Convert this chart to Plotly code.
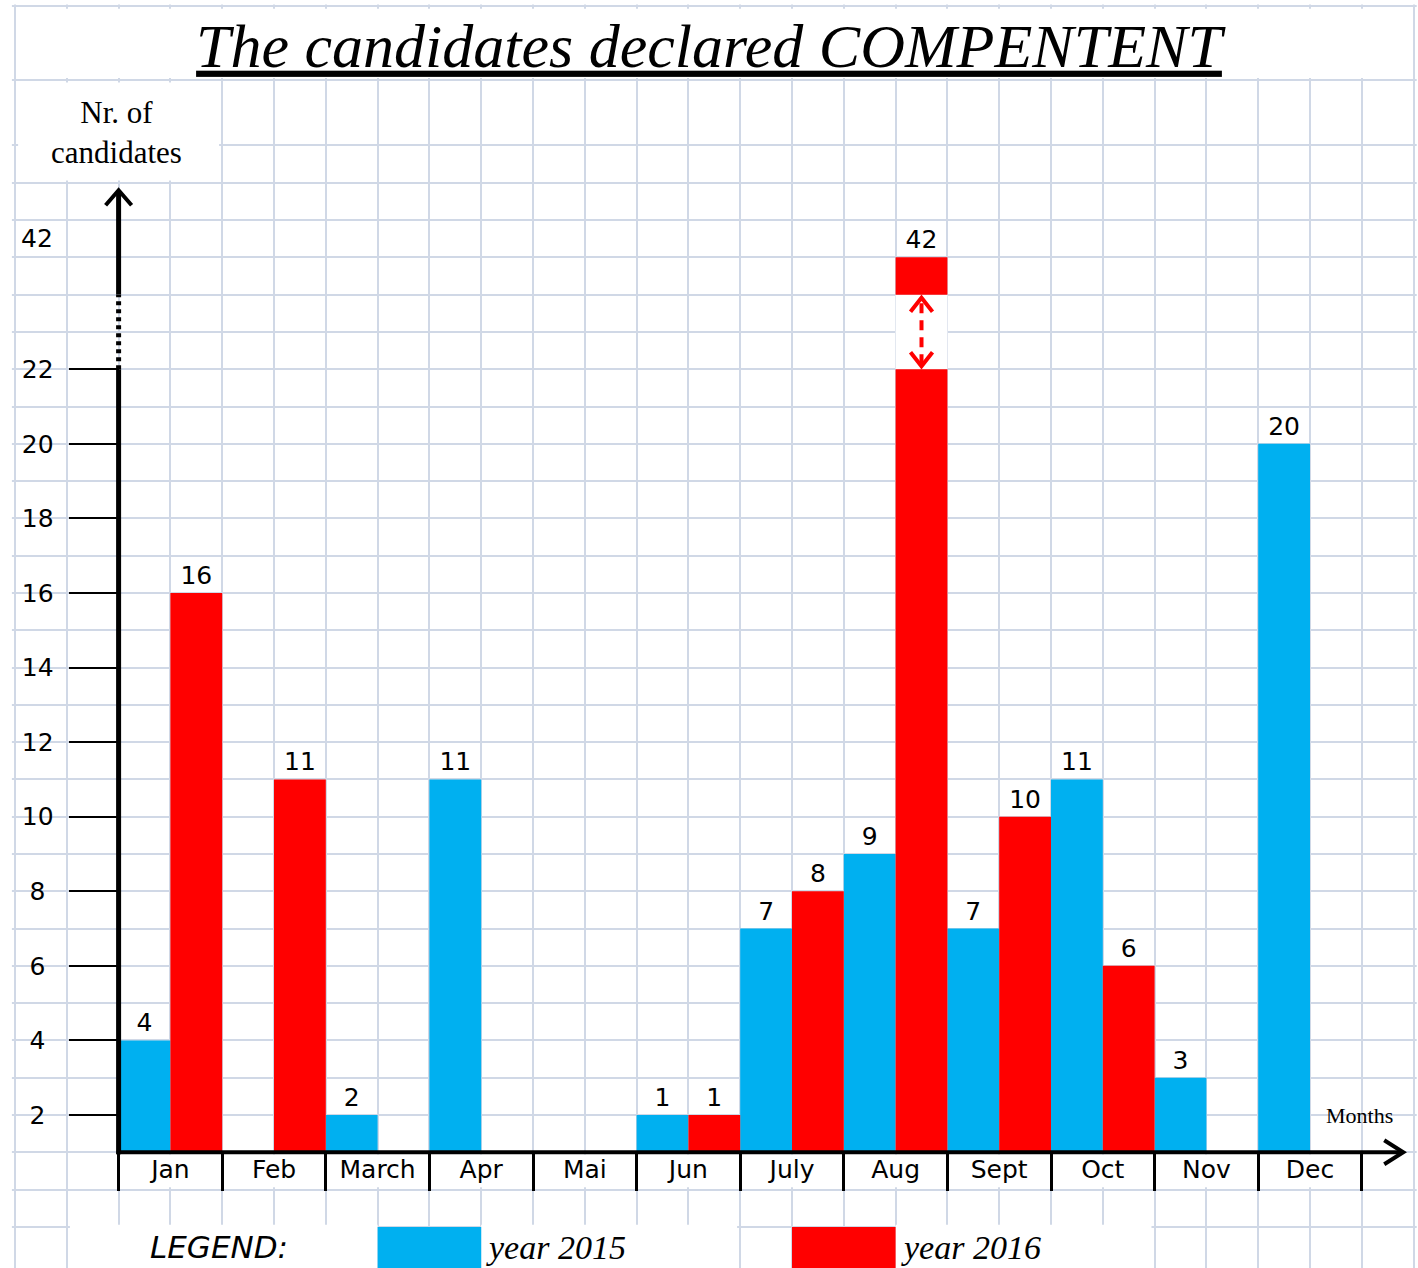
import plotly.graph_objects as go

# ---------------- data ----------------
MONTHS = ["Jan", "Feb", "March", "Apr", "Mai", "Jun", "July", "Aug", "Sept", "Oct", "Nov", "Dec"]
YEAR_2015 = [4, None, 2, 11, None, 1, 7, 9, 7, 11, 3, 20]
YEAR_2016 = [16, 11, None, None, None, 1, 8, 42, 10, 6, None, None]
SERIES_NAMES = ["year 2015", "year 2016"]
SERIES_COLORS = ["#00B0F0", "#FF0000"]
Y_TICK_VALUES = [2, 4, 6, 8, 10, 12, 14, 16, 18, 20, 22]
Y_BREAK_LABEL = 42
TITLE = "The candidates declared COMPENTENT"
Y_TITLE = "Nr. of<br>candidates"
X_TITLE = "Months"
LEGEND_TITLE = "LEGEND:"

# ---------------- axis conventions of the drawing ----------------
ORIGIN = 1          # value at which the x-axis crosses the y-axis
BREAK_LOW = 22      # axis is broken above this value
BREAK_RESUME = 24   # display level where the broken bar resumes
BREAK_TOP = 25      # display level of the top of a broken bar

W, H = 1418, 1268
PX_PER_X = 103.6        # pixels per month
X_LEFT_PX = 15.0        # pixel of x = -1.5 (left border of the sheet)
PX_PER_Y = 37.29        # pixels per unit
Y_ZERO_PX = 1189.6      # pixel of y = 0

x_range = [-1.5 - X_LEFT_PX / PX_PER_X, -1.5 + (W - X_LEFT_PX) / PX_PER_X]
y_range = [-(H - Y_ZERO_PX) / PX_PER_Y, Y_ZERO_PX / PX_PER_Y]

GRID = "#D0D8E6"
SANS = "DejaVu Sans"
SERIF = "Liberation Serif"
LBL_SIZE = 25


def shown_top(v):
    if v > BREAK_LOW:
        return BREAK_TOP
    return max(v, ORIGIN + 1)


fig = go.Figure()
offsets = [-0.25, 0.25]
for k, (vals, name, color) in enumerate(zip([YEAR_2015, YEAR_2016], SERIES_NAMES, SERIES_COLORS)):
    xs, hs, txt = [], [], []
    for i, v in enumerate(vals):
        if v is None:
            continue
        xs.append(i + offsets[k])
        hs.append(min(shown_top(v), BREAK_LOW) - ORIGIN)
        txt.append(str(v) if v <= BREAK_LOW else "")
    fig.add_bar(x=xs, y=hs, base=ORIGIN, width=0.5, name=name,
                marker=dict(color=color, line=dict(width=0)),
                text=txt, textposition="outside", constraintext="none",
                textfont=dict(family=SANS, size=LBL_SIZE, color="black"),
                cliponaxis=False, showlegend=False)
    ox = [i + offsets[k] for i, v in enumerate(vals) if v is not None and v > BREAK_LOW]
    ot = [str(v) for v in vals if v is not None and v > BREAK_LOW]
    if ox:
        fig.add_bar(x=ox, y=[BREAK_TOP - BREAK_RESUME] * len(ox), base=BREAK_RESUME, width=0.5,
                    name=name, marker=dict(color=color, line=dict(width=0)),
                    text=ot, textposition="outside", constraintext="none",
                    textfont=dict(family=SANS, size=LBL_SIZE, color="black"),
                    cliponaxis=False, showlegend=False)

# ---------------- axes (grid paper) ----------------
x_major = [-1.5, -1.0] + list(range(len(MONTHS))) + [12.0]
x_text = ["", ""] + MONTHS + [""]
x_minor = [i - 0.5 for i in range(len(MONTHS) + 1)]

y_major = list(range(-1, 29)) + [29.75, 31.73]
def ylab(v):
    if v in Y_TICK_VALUES:
        s = str(v)
        return s if len(s) > 1 else s + "\u2004"
    return ""
y_text = [ylab(v) for v in y_major]

x_pos = (ORIGIN - y_range[0]) / (y_range[1] - y_range[0])
y_pos = (X_LEFT_PX + PX_PER_X * 1.0) / W

fig.update_layout(
    width=W, height=H, margin=dict(l=0, r=0, t=0, b=0),
    paper_bgcolor="white", plot_bgcolor="white",
    barmode="overlay",
    xaxis=dict(range=x_range, anchor="free", position=x_pos, showline=False, zeroline=False,
               tickmode="array", tickvals=x_major, ticktext=x_text, ticks="",
               showgrid=True, gridcolor=GRID, gridwidth=2,
               tickfont=dict(family=SANS, size=LBL_SIZE, color="black"),
               minor=dict(tickmode="array", tickvals=x_minor, ticks="outside", ticklen=38,
                          tickwidth=3, tickcolor="black", showgrid=True, gridcolor=GRID, gridwidth=2)),
    yaxis=dict(range=y_range, anchor="free", position=y_pos, showline=False, zeroline=False,
               tickmode="array", tickvals=y_major, ticktext=y_text, ticks="",
               ticklabelstandoff=65,
               showgrid=True, gridcolor=GRID, gridwidth=2,
               tickfont=dict(family=SANS, size=LBL_SIZE, color="black"),
               minor=dict(tickmode="array", tickvals=Y_TICK_VALUES, ticks="outside", ticklen=50,
                          tickwidth=2, tickcolor="black", showgrid=False)),
    title=dict(text="<u>" + TITLE + "</u>", x=0.5, xanchor="center", y=1 - 45 / H, yanchor="middle",
               font=dict(family=SERIF, size=62, style="italic", color="black")),
)

shapes = []
def white(x0, x1, y0, y1):
    shapes.append(dict(type="rect", xref="x", yref="y", x0=x0, x1=x1, y0=y0, y1=y1,
                       fillcolor="white", line=dict(width=0), layer="between"))

e = 0.03
# outside the sheet
white(x_range[0], -1.5 - e, y_range[0], y_range[1])
white(12 + e, x_range[1], y_range[0], y_range[1])
white(x_range[0], x_range[1], 31.73 + 0.05, y_range[1])
# title cell
white(-1.5 + e, 12 - e, 29.75 + 0.06, 31.73 - 0.06)
# y title cell
white(-1.5 + e, 0.5 - e, 27 + 0.06, 29.75 - 0.06)
# month-label row
white(-0.5 + e, 11.5 - e, 0 + 0.06, 1 - 0.06)
# legend row cells
ly0, ly1 = y_range[0], -1 + 0.06
white(-1 + e, 2.0, ly0, ly1)
white(3.0, 5.5 - e, ly0, ly1)
white(7.0, 9.5 - e, ly0, ly1)

# gap in broken bars + dashed double arrow
sx, sy = PX_PER_X, PX_PER_Y
for k, vals in enumerate([YEAR_2015, YEAR_2016]):
    for i, v in enumerate(vals):
        if v is not None and v > BREAK_LOW:
            cx = i + offsets[k]
            white(cx - 0.25, cx + 0.25, BREAK_LOW, BREAK_RESUME)
            ya, yb = BREAK_LOW + 3 / sy, BREAK_RESUME - 3 / sy
            shapes.append(dict(type="line", xref="x", yref="y", x0=cx, x1=cx, y0=ya + 2 / sy, y1=yb - 2 / sy,
                               line=dict(color=SERIES_COLORS[k], width=4, dash="10px,7px"), layer="above"))
            for tip, d in [(yb, -1), (ya, 1)]:
                shapes.append(dict(type="path", xref="x", yref="y",
                                   path=f"M {cx - 11 / sx} {tip + d * 14 / sy} L {cx} {tip} L {cx + 11 / sx} {tip + d * 14 / sy}",
                                   line=dict(color=SERIES_COLORS[k], width=4), layer="above"))

# axis lines with arrows
x_tip = 11.9
y_tip = 26.8
shapes.append(dict(type="line", xref="x", yref="y", x0=-0.5 - 2 / sx, x1=x_tip - 1 / sx, y0=ORIGIN, y1=ORIGIN,
                   line=dict(color="black", width=4), layer="above"))
shapes.append(dict(type="path", xref="x", yref="y",
                   path=f"M {x_tip - 19 / sx} {ORIGIN + 12 / sy} L {x_tip} {ORIGIN} L {x_tip - 19 / sx} {ORIGIN - 12 / sy}",
                   line=dict(color="black", width=4), layer="above"))
shapes.append(dict(type="line", xref="x", yref="y", x0=-0.5, x1=-0.5, y0=ORIGIN - 2 / sy, y1=BREAK_LOW,
                   line=dict(color="black", width=5), layer="above"))
shapes.append(dict(type="line", xref="x", yref="y", x0=-0.5, x1=-0.5, y0=BREAK_LOW, y1=BREAK_RESUME,
                   line=dict(color="black", width=5, dash="4px,4px"), layer="above"))
shapes.append(dict(type="line", xref="x", yref="y", x0=-0.5, x1=-0.5, y0=BREAK_RESUME, y1=y_tip - 1 / sy,
                   line=dict(color="black", width=5), layer="above"))
shapes.append(dict(type="path", xref="x", yref="y",
                   path=f"M {-0.5 - 13 / sx} {y_tip - 15 / sy} L {-0.5} {y_tip} L {-0.5 + 13 / sx} {y_tip - 15 / sy}",
                   line=dict(color="black", width=4), layer="above"))

# legend swatches
for (x0, x1), color in zip([(2.0, 3.0), (6.0, 7.0)], SERIES_COLORS):
    shapes.append(dict(type="rect", xref="x", yref="y", x0=x0, x1=x1, y0=y_range[0], y1=-1,
                       fillcolor=color, line=dict(width=0), layer="above"))

fig.update_layout(shapes=shapes)

ly = (-1 + y_range[0]) / 2
annotations = [
    dict(text=Y_TITLE, x=-0.52, y=28.36, xref="x", yref="y", showarrow=False,
         font=dict(family=SERIF, size=31, color="black"), align="center"),
    dict(text=X_TITLE, x=11.48, y=ORIGIN + 1, xref="x", yref="y", showarrow=False,
         font=dict(family=SERIF, size=22, color="black")),
    dict(text=str(Y_BREAK_LABEL), x=37 / W, y=BREAK_TOP, xref="paper", yref="y", xanchor="center",
         yanchor="bottom", yshift=2, showarrow=False, font=dict(family=SANS, size=LBL_SIZE, color="black")),
    dict(text=LEGEND_TITLE, x=0.47, y=ly, xref="x", yref="y", showarrow=False,
         font=dict(family=SANS, size=31, style="italic", color="black")),
]
for x0, name in zip([3.0, 7.0], SERIES_NAMES):
    annotations.append(dict(text=name, x=x0, y=ly, xref="x", yref="y", xanchor="left", xshift=3,
                            showarrow=False, font=dict(family=SERIF, size=34, style="italic", color="black")))
fig.update_layout(annotations=annotations)

fig.write_html("out.html", config={"displayModeBar": False},
               post_script="document.body.style.margin='0';document.body.style.overflow='hidden';")
